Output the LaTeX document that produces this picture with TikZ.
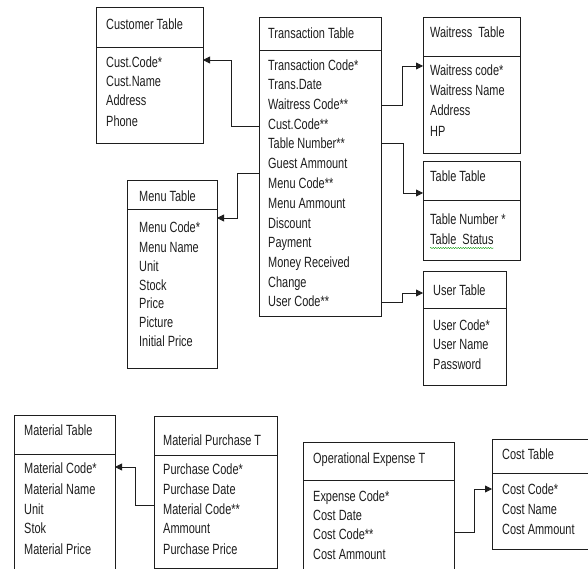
\documentclass[tikz,border=0pt]{standalone}
\usepackage{fontspec}
\setmainfont{Liberation Sans}[FakeStretch=0.74]
\usetikzlibrary{arrows.meta,decorations.pathmorphing}
\definecolor{ink}{HTML}{1E1E1E}
\tikzset{
  tbox/.style={draw=ink, line width=0.8pt, rectangle, inner sep=0pt, outer sep=0pt, anchor=north west},
  fld/.style={anchor=west, inner sep=0pt, text=ink, font=\fontsize{14.8}{17}\selectfont, text height=11pt, text depth=3pt},
  link/.style={draw=ink, line width=0.8pt, -{Triangle[length=7pt,width=7pt]}},
}
\newcommand\mktable[6]{%
  \node[tbox, minimum width={(#4-#2)*1pt}, minimum height={(#5-#3)*1pt}] (#1h) at (#2,#3) {};
  \node[tbox, minimum width={(#4-#2)*1pt}, minimum height={(#6-#5)*1pt}] (#1b) at (#2,#5) {};
}
\begin{document}
\begin{tikzpicture}[x=1pt,y=-1pt]
\useasboundingbox (0,0) rectangle (588,569);
\clip (0,0) rectangle (588,569);
\fill[white] (0,0) rectangle (588,569);

% ---------- Customer Table
\mktable{cust}{96}{7}{203}{47}{143}
\node[fld] (custT) at (106,26) {Customer Table};
\node[fld] (c1) at (106,64) {Cust.Code*};
\node[fld] (c2) at (106,83) {Cust.Name};
\node[fld] (c3) at (106,102) {Address};
\node[fld] (c4) at (106,123) {Phone};

% ---------- Transaction Table
\mktable{tr}{259}{17}{381}{50}{316}
\node[fld] (trT) at (268,35) {Transaction Table};
\node[fld] (t1) at (268,67) {Transaction Code*};
\node[fld] (t2) at (268,86) {Trans.Date};
\node[fld] (t3) at (268,106) {Waitress Code**};
\node[fld] (t4) at (268,126) {Cust.Code**};
\node[fld] (t5) at (268,145) {Table Number**};
\node[fld] (t6) at (268,165) {Guest Ammount};
\node[fld] (t7) at (268,185) {Menu Code**};
\node[fld] (t8) at (268,204) {Menu Ammount};
\node[fld] (t9) at (268,224) {Discount};
\node[fld] (t10) at (268,243) {Payment};
\node[fld] (t11) at (268,263) {Money Received};
\node[fld] (t12) at (268,283) {Change};
\node[fld] (t13) at (268,302) {User Code**};

% ---------- Waitress Table
\mktable{wt}{423}{17}{520}{56}{153}
\node[fld] (wtT) at (430,34) {Waitress\ \ Table};
\node[fld] (w1) at (430,72) {Waitress code*};
\node[fld] (w2) at (430,92) {Waitress Name};
\node[fld] (w3) at (430,112) {Address};
\node[fld] (w4) at (430,133) {HP};

% ---------- Table Table
\mktable{tt}{423}{161}{520}{200}{260}
\node[fld] (ttT) at (430,178) {Table Table};
\node[fld] (tt1) at (430,220) {Table Number *};
\node[fld] (tt2) at (430,240) {Table\ \ Status};
\draw[green!60!black, line width=0.4pt, decorate, decoration={snake, amplitude=0.6pt, segment length=2.5pt}]
  ([yshift=-4pt]tt2.base west) -- ([yshift=-4pt]tt2.base east);

% ---------- User Table
\mktable{ut}{423}{271}{506}{308}{385}
\node[fld] (utT) at (433,291) {User Table};
\node[fld] (u1) at (433,326) {User Code*};
\node[fld] (u2) at (433,345) {User Name};
\node[fld] (u3) at (433,365) {Password};

% ---------- Menu Table
\mktable{mt}{127}{180}{217}{209}{368}
\node[fld] (mtT) at (139,197) {Menu Table};
\node[fld] (m1) at (139,228) {Menu Code*};
\node[fld] (m2) at (139,248) {Menu Name};
\node[fld] (m3) at (139,267) {Unit};
\node[fld] (m4) at (139,286) {Stock};
\node[fld] (m5) at (139,304) {Price};
\node[fld] (m6) at (139,323) {Picture};
\node[fld] (m7) at (139,342) {Initial Price};

% ---------- Material Table
\mktable{ma}{14}{415}{115}{454}{580}
\node[fld] (maT) at (24,431) {Material Table};
\node[fld] (ma1) at (24,469) {Material Code*};
\node[fld] (ma2) at (24,490) {Material Name};
\node[fld] (ma3) at (24,510) {Unit};
\node[fld] (ma4) at (24,529) {Stok};
\node[fld] (ma5) at (24,550) {Material Price};

% ---------- Material Purchase T
\mktable{mp}{154}{416}{277}{455}{568}
\node[fld] (mpT) at (163,441) {Material Purchase T};
\node[fld] (p1) at (163,470) {Purchase Code*};
\node[fld] (p2) at (163,490) {Purchase Date};
\node[fld] (p3) at (163,510) {Material Code**};
\node[fld] (p4) at (163,529) {Ammount};
\node[fld] (p5) at (163,550) {Purchase Price};

% ---------- Operational Expense T
\mktable{oe}{303}{442}{454}{480}{580}
\node[fld] (oeT) at (313,459) {Operational\ Expense T};
\node[fld] (o1) at (313,497) {Expense Code*};
\node[fld] (o2) at (313,516) {Cost Date};
\node[fld] (o3) at (313,535) {Cost Code**};
\node[fld] (o4) at (313,555) {Cost Ammount};

% ---------- Cost Table
\mktable{ct}{492}{439}{600}{473}{549}
\node[fld] (ctT) at (502,455) {Cost Table};
\node[fld] (k1) at (502,490) {Cost Code*};
\node[fld] (k2) at (502,510) {Cost Name};
\node[fld] (k3) at (502,530) {Cost Ammount};

% ---------- connectors
\coordinate (bc1) at (231,126);
\coordinate (bc2) at (231,60);
\draw[link] (trb.west |- bc1) -- (bc1) -- (bc2) -- (custb.east |- bc2);

\coordinate (bm1) at (237,173);
\coordinate (bm2) at (237,218);
\draw[link] (trb.west |- bm1) -- (bm1) -- (bm2) -- (mtb.east |- bm2);

\coordinate (bw1) at (402,105);
\coordinate (bw2) at (402,66);
\draw[link] (trb.east |- bw1) -- (bw1) -- (bw2) -- (wtb.west |- bw2);

\coordinate (bt1) at (403,143);
\coordinate (bt2) at (403,193);
\draw[link] (trb.east |- bt1) -- (bt1) -- (bt2) -- (tth.west |- bt2);

\coordinate (bu1) at (402,302);
\coordinate (bu2) at (402,293);
\draw[link] (trb.east |- bu1) -- (bu1) -- (bu2) -- (uth.west |- bu2);

\coordinate (bp1) at (135,505);
\coordinate (bp2) at (135,467);
\draw[link] (mpb.west |- bp1) -- (bp1) -- (bp2) -- (mab.east |- bp2);

\coordinate (bo1) at (474,532);
\coordinate (bo2) at (474,489);
\draw[link] (oeb.east |- bo1) -- (bo1) -- (bo2) -- (ctb.west |- bo2);
\end{tikzpicture}
\end{document}
